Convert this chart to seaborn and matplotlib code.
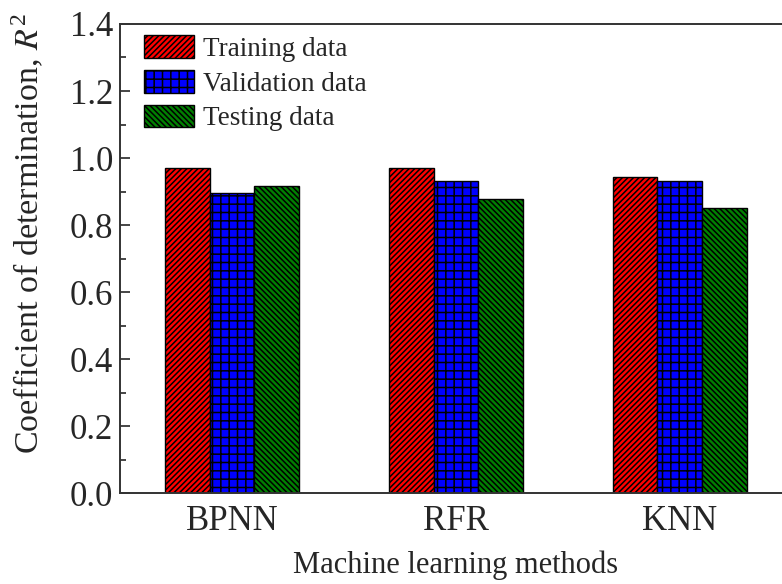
import matplotlib
matplotlib.use("Agg")
import matplotlib.pyplot as plt
import seaborn as sns
import pandas as pd
from matplotlib.patches import Patch
from matplotlib.ticker import MultipleLocator

methods = ["BPNN", "RFR", "KNN"]
series = ["Training data", "Validation data", "Testing data"]
training = [0.969, 0.971, 0.944]
validation = [0.896, 0.931, 0.931]
testing = [0.917, 0.877, 0.852]

colors = ["#FF0000", "#0000FF", "#008000"]
hatches = ["//////", "++", "\\\\\\\\\\\\"]

df = pd.DataFrame({
    "method": methods * 3,
    "series": [s for s in series for _ in methods],
    "R2": training + validation + testing,
})

sns.set_theme(style="ticks")
plt.rcParams["font.family"] = ["Liberation Serif", "DejaVu Serif"]
plt.rcParams["mathtext.fontset"] = "stix"
plt.rcParams["hatch.linewidth"] = 1.1
plt.rcParams["hatch.color"] = "black"

fig = plt.figure(figsize=(7.82, 5.84), dpi=100)
ax = fig.add_axes([0.1535, 0.155, 0.859, 0.804])

sns.barplot(data=df, x="method", y="R2", hue="series", order=methods,
            hue_order=series, palette=colors, width=0.6, gap=0,
            edgecolor="black", linewidth=1.0, saturation=1, ax=ax, legend=False)

for cont, h in zip(ax.containers, hatches):
    for p in cont:
        p.set_hatch(h)
        p.set_edgecolor("black")

ax.set_xlim(-0.5, 2.5)
ax.set_ylim(0, 1.4)
ax.yaxis.set_major_locator(MultipleLocator(0.2))
ax.yaxis.set_minor_locator(MultipleLocator(0.1))
ax.yaxis.set_major_formatter(matplotlib.ticker.FormatStrFormatter("%.1f"))
ax.tick_params(axis="y", which="major", direction="in", length=7, width=1.2, labelsize=25, pad=5)
ax.tick_params(axis="y", which="minor", direction="in", length=4, width=1.2)
ax.tick_params(axis="x", length=0, labelsize=25, pad=8)
for s in ax.spines.values():
    s.set_linewidth(1.4)
    s.set_color("#333333")

ax.set_xlabel("Machine learning methods", fontsize=22, labelpad=9)
ax.set_ylabel("Coefficient of determination, $R^{\\mathregular{2}}$", fontsize=24.5)
ax.yaxis.set_label_coords(-0.112, 0.554)

handles = [Patch(facecolor=c, edgecolor="black", hatch=h, linewidth=1.0, label=s)
           for c, h, s in zip(colors, hatches, series)]
ax.legend(handles=handles, loc="upper left", bbox_to_anchor=(0.012, 1.01),
          frameon=False, fontsize=19.5, handlelength=1.85, handleheight=0.9,
          handletextpad=0.3, labelspacing=0.3, borderaxespad=0.2)

fig.savefig("out.png", dpi=100)
